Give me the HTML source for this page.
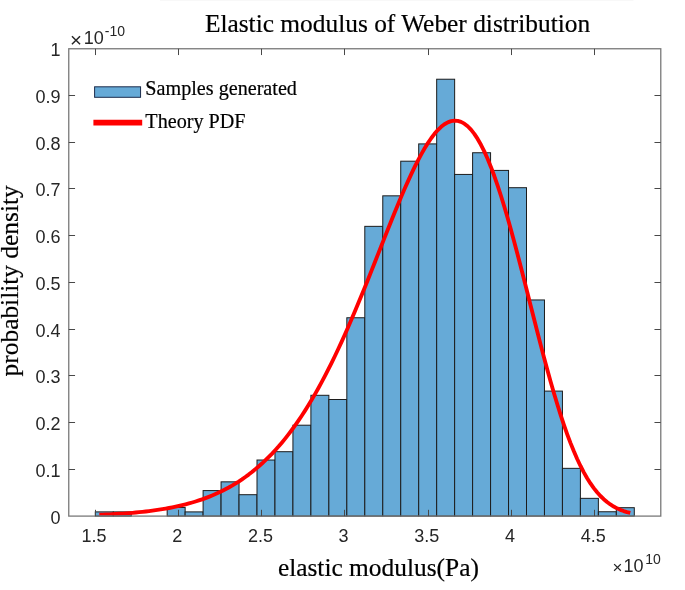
<!DOCTYPE html>
<html lang="en"><head><meta charset="utf-8"><title>Elastic modulus of Weber distribution</title>
<style>html,body{margin:0;padding:0;background:#fff}body{width:685px;height:590px;overflow:hidden}svg{display:block}
.sf{font-family:"Liberation Serif","Times New Roman",serif;fill:#000;stroke:#000;stroke-width:0.2px}
.tk{font-family:"Liberation Sans",Arial,sans-serif;font-size:18px;fill:#262626}
.sp{font-family:"Liberation Sans",Arial,sans-serif;font-size:14px;fill:#262626}
</style></head><body>
<svg width="685" height="590" viewBox="0 0 685 590">
<rect width="685" height="590" fill="#fff"/>
<rect x="160" y="0" width="473.5" height="1" fill="#f8f8f8"/>
<g fill="#66aad7" stroke="#1c1c1c" stroke-width="1" stroke-linejoin="miter">
<rect x="95.30" y="511.89" width="17.97" height="4.21"/>
<rect x="113.27" y="511.89" width="17.97" height="4.21"/>
<rect x="167.17" y="507.45" width="17.97" height="8.65"/>
<rect x="185.13" y="511.89" width="17.97" height="4.21"/>
<rect x="203.10" y="490.58" width="17.97" height="25.52"/>
<rect x="221.07" y="481.84" width="17.97" height="34.26"/>
<rect x="239.03" y="494.70" width="17.97" height="21.40"/>
<rect x="257.00" y="460.02" width="17.97" height="56.08"/>
<rect x="274.97" y="451.70" width="17.97" height="64.40"/>
<rect x="292.93" y="425.20" width="17.97" height="90.90"/>
<rect x="310.90" y="395.29" width="17.97" height="120.81"/>
<rect x="328.87" y="399.50" width="17.97" height="116.60"/>
<rect x="346.83" y="317.76" width="17.97" height="198.34"/>
<rect x="364.80" y="226.35" width="17.97" height="289.75"/>
<rect x="382.77" y="195.83" width="17.97" height="320.27"/>
<rect x="400.73" y="161.20" width="17.97" height="354.90"/>
<rect x="418.70" y="143.91" width="17.97" height="372.19"/>
<rect x="436.67" y="79.23" width="17.97" height="436.87"/>
<rect x="454.63" y="174.43" width="17.97" height="341.67"/>
<rect x="472.60" y="152.74" width="17.97" height="363.36"/>
<rect x="490.57" y="170.41" width="17.97" height="345.69"/>
<rect x="508.53" y="187.70" width="17.97" height="328.40"/>
<rect x="526.50" y="299.96" width="17.97" height="216.14"/>
<rect x="544.47" y="391.09" width="17.97" height="125.01"/>
<rect x="562.43" y="468.34" width="17.97" height="47.76"/>
<rect x="580.40" y="498.34" width="17.97" height="17.76"/>
<rect x="598.37" y="511.75" width="17.97" height="4.35"/>
<rect x="616.33" y="507.69" width="17.97" height="8.41"/>
</g>
<clipPath id="cp"><rect x="68.76" y="48.76" width="592.02" height="466.79"/></clipPath>
<polyline clip-path="url(#cp)" points="99.30,514.79 102.62,514.66 105.94,514.51 109.26,514.35 112.57,514.18 115.89,514.00 119.21,513.79 122.53,513.57 125.85,513.34 129.17,513.08 132.49,512.81 135.81,512.51 139.12,512.19 142.44,511.84 145.76,511.47 149.08,511.08 152.40,510.65 155.72,510.19 159.04,509.70 162.36,509.17 165.67,508.61 168.99,508.01 172.31,507.36 175.63,506.68 178.95,505.94 182.27,505.16 185.59,504.33 188.91,503.44 192.22,502.50 195.54,501.50 198.86,500.44 202.18,499.31 205.50,498.11 208.82,496.84 212.14,495.49 215.46,494.06 218.77,492.55 222.09,490.96 225.41,489.27 228.73,487.49 232.05,485.61 235.37,483.63 238.69,481.54 242.01,479.34 245.32,477.03 248.64,474.59 251.96,472.03 255.28,469.34 258.60,466.52 261.92,463.56 265.24,460.46 268.56,457.21 271.88,453.82 275.19,450.26 278.51,446.55 281.83,442.67 285.15,438.62 288.47,434.41 291.79,430.02 295.11,425.45 298.43,420.69 301.74,415.76 305.06,410.64 308.38,405.33 311.70,399.83 315.02,394.13 318.34,388.25 321.66,382.18 324.97,375.91 328.29,369.46 331.61,362.82 334.93,356.00 338.25,349.00 341.57,341.82 344.89,334.48 348.21,326.98 351.52,319.33 354.84,311.53 358.16,303.61 361.48,295.57 364.80,287.42 368.12,279.19 371.44,270.88 374.76,262.53 378.07,254.14 381.39,245.74 384.71,237.36 388.03,229.01 391.35,220.73 394.67,212.55 397.99,204.49 401.31,196.58 404.62,188.86 407.94,181.37 411.26,174.13 414.58,167.19 417.90,160.58 421.22,154.34 424.54,148.51 427.86,143.13 431.18,138.23 434.49,133.86 437.81,130.04 441.13,126.82 444.45,124.24 447.77,122.32 451.09,121.09 454.41,120.59 457.73,120.84 461.04,121.85 464.36,123.66 467.68,126.26 471.00,129.67 474.32,133.89 477.64,138.93 480.96,144.77 484.28,151.39 487.59,158.79 490.91,166.94 494.23,175.79 497.55,185.33 500.87,195.49 504.19,206.24 507.51,217.53 510.82,229.28 514.14,241.44 517.46,253.94 520.78,266.71 524.10,279.68 527.42,292.77 530.74,305.91 534.06,319.02 537.37,332.03 540.69,344.88 544.01,357.48 547.33,369.78 550.65,381.72 553.97,393.24 557.29,404.29 560.61,414.84 563.92,424.84 567.24,434.27 570.56,443.11 573.88,451.34 577.20,458.96 580.52,465.97 583.84,472.37 587.16,478.19 590.47,483.44 593.79,488.13 597.11,492.31 600.43,496.00 603.75,499.24 607.07,502.05 610.39,504.49 613.71,506.57 617.02,508.34 620.34,509.83 623.66,511.07 626.98,512.11 630.30,512.95" fill="none" stroke="#ff0000" stroke-width="3.85" stroke-linejoin="round"/>
<g stroke="#787878" stroke-width="1.3" fill="none">
<rect x="68.76" y="48.76" width="592.02" height="467.34"/>
</g>
<g stroke="#484848" stroke-width="1" fill="none">
<path d="M95.50 516.1v-6.3M95.50 48.76v6.3M178.50 516.1v-6.3M178.50 48.76v6.3M261.50 516.1v-6.3M261.50 48.76v6.3M344.50 516.1v-6.3M344.50 48.76v6.3M428.50 516.1v-6.3M428.50 48.76v6.3M511.50 516.1v-6.3M511.50 48.76v6.3M594.50 516.1v-6.3M594.50 48.76v6.3M68.76 469.50h6.3M660.78 469.50h-6.3M68.76 422.50h6.3M660.78 422.50h-6.3M68.76 375.50h6.3M660.78 375.50h-6.3M68.76 329.50h6.3M660.78 329.50h-6.3M68.76 282.50h6.3M660.78 282.50h-6.3M68.76 235.50h6.3M660.78 235.50h-6.3M68.76 188.50h6.3M660.78 188.50h-6.3M68.76 142.50h6.3M660.78 142.50h-6.3M68.76 95.50h6.3M660.78 95.50h-6.3"/>
</g>
<rect x="94.6" y="86.8" width="45.96" height="10.5" fill="#66aad7" stroke="#1c2c4c" stroke-width="1"/>
<line x1="93.4" y1="122.6" x2="142.2" y2="122.6" stroke="#ff0000" stroke-width="5.6"/>
<text class="sf" x="145.35" y="95.2" font-size="20.15">Samples generated</text>
<text class="sf" x="145.35" y="128" font-size="20.15">Theory PDF</text>
<text class="sf" x="204.9" y="31.7" font-size="25.4">Elastic modulus of Weber distribution</text>
<text class="sf" x="277.9" y="576.1" font-size="25.4">elastic modulus(Pa)</text>
<text class="sf" transform="translate(17.9,376.4) rotate(-90)" font-size="25.4">probability density</text>
<text class="tk" x="94.00" y="542" text-anchor="middle">1.5</text>
<text class="tk" x="177.20" y="542" text-anchor="middle">2</text>
<text class="tk" x="260.40" y="542" text-anchor="middle">2.5</text>
<text class="tk" x="343.60" y="542" text-anchor="middle">3</text>
<text class="tk" x="426.80" y="542" text-anchor="middle">3.5</text>
<text class="tk" x="510.00" y="542" text-anchor="middle">4</text>
<text class="tk" x="593.20" y="542" text-anchor="middle">4.5</text>
<text class="tk" x="60.5" y="523.50" text-anchor="end">0</text>
<text class="tk" x="60.5" y="476.77" text-anchor="end">0.1</text>
<text class="tk" x="60.5" y="430.03" text-anchor="end">0.2</text>
<text class="tk" x="60.5" y="383.30" text-anchor="end">0.3</text>
<text class="tk" x="60.5" y="336.56" text-anchor="end">0.4</text>
<text class="tk" x="60.5" y="289.83" text-anchor="end">0.5</text>
<text class="tk" x="60.5" y="243.10" text-anchor="end">0.6</text>
<text class="tk" x="60.5" y="196.36" text-anchor="end">0.7</text>
<text class="tk" x="60.5" y="149.63" text-anchor="end">0.8</text>
<text class="tk" x="60.5" y="102.89" text-anchor="end">0.9</text>
<text class="tk" x="60.5" y="56.16" text-anchor="end">1</text>
<text class="tk" style="font-size:20.5px" x="69.9" y="46.6" >×</text>
<text class="tk" x="83.8" y="44.2">10</text>
<text class="sp" x="104.8" y="36.2">-10</text>
<text class="tk" style="font-size:17px" x="612.4" y="573.4">×</text>
<text class="tk" x="623.4" y="571.6">10</text>
<text class="sp" x="645.2" y="563.6">10</text>
</svg></body></html>
